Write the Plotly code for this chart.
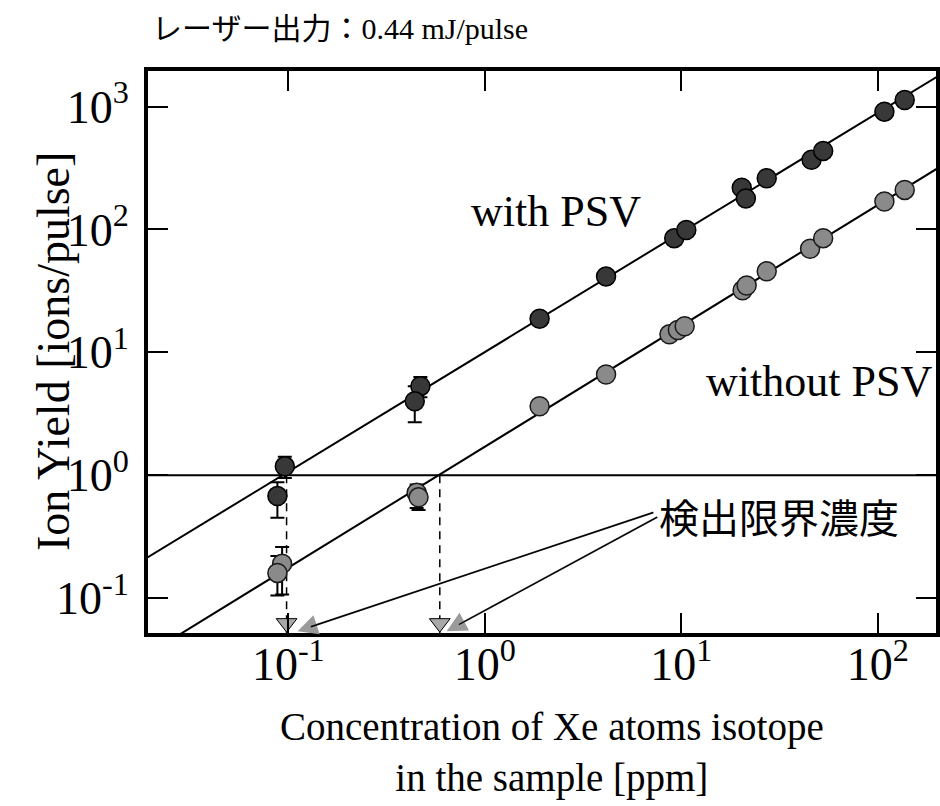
import numpy as np
import plotly.graph_objects as go

# ---------------- data ----------------
title_text = "レーザー出力：0.44 mJ/pulse"
x_title_lines = ["Concentration of Xe atoms isotope", "in the sample [ppm]"]
y_title = "Ion Yield [ions/pulse]"
label_with = "with PSV"
label_without = "without PSV"
label_limit = "検出限界濃度"

# with PSV (dark markers)
with_x = [0.096, 0.088, 0.47, 0.44, 1.90, 4.14, 9.2, 10.6, 20.3, 21.3, 27.2, 46.0, 52.7, 108, 137]
with_y = [1.18, 0.675, 5.3, 4.0, 18.8, 41.5, 85, 99, 219, 179, 261, 369, 436, 910, 1133]
with_err_up = [0.23, 0.20, 1.0, 1.3, 0.8, 1.7, 3.5, 4.0, 9, 7, 10, 15, 17, 36, 45]
with_err_dn = [0.23, 0.225, 1.0, 1.3, 0.8, 1.7, 3.5, 4.0, 9, 7, 10, 15, 17, 36, 45]

# without PSV (grey markers)
without_x = [0.093, 0.088, 0.45, 0.46, 1.90, 4.14, 8.7, 9.6, 10.4, 20.5, 21.5, 27.2, 45.2, 52.7, 108, 137]
without_y = [0.19, 0.16, 0.72, 0.66, 3.64, 6.6, 14.0, 15.2, 16.3, 32, 35, 45.6, 69.7, 85, 169, 210]
without_err_up = [0.07, 0.06, 0.12, 0.12, 0.15, 0.3, 0.6, 0.6, 0.7, 1.3, 1.4, 1.8, 2.8, 3.4, 7, 8]
without_err_dn = [0.083, 0.055, 0.18, 0.14, 0.15, 0.3, 0.6, 0.6, 0.7, 1.3, 1.4, 1.8, 2.8, 3.4, 7, 8]

# fitted lines: log10(y) = slope*log10(x) + intercept
fit_with = (0.974, 1.002)
fit_without = (0.984, 0.231)
# detection limits (ppm) where the fits cross 1 ion/pulse
det_limits = [0.098, 0.59]
threshold = 1.0

x_tickvals = [0.1, 1, 10, 100]
x_ticktext = ["10<sup>-1</sup>", "10<sup>0</sup>", "10<sup>1</sup>", "10<sup>2</sup>"]
y_tickvals = [0.1, 1, 10, 100, 1000]
y_ticktext = ["10<sup>-1</sup>", "10<sup>0</sup>", "10<sup>1</sup>", "10<sup>2</sup>", "10<sup>3</sup>"]
x_range_log = [-1.714, 2.296]
y_range_log = [-1.285, 3.29]

# ---------------- figure ----------------
SERIF = "Liberation Serif, Noto Sans CJK JP"
SANS_JP = "Noto Sans CJK JP"

fig = go.Figure()

line_x = np.array([0.01, 1000.0])
for slope, icpt in (fit_with, fit_without):
    fig.add_trace(go.Scatter(
        x=line_x, y=10 ** (slope * np.log10(line_x) + icpt),
        mode="lines", line=dict(color="black", width=2), hoverinfo="skip", showlegend=False))

# threshold line at 1 ion/pulse
fig.add_trace(go.Scatter(x=line_x, y=[threshold, threshold], mode="lines",
                         line=dict(color="black", width=2), showlegend=False, hoverinfo="skip"))

# dashed drop lines at detection limits
y_bottom = 10 ** y_range_log[0]
for d in det_limits:
    fig.add_trace(go.Scatter(x=[d, d], y=[threshold, y_bottom], mode="lines",
                             line=dict(color="black", width=1.5, dash="8px,6px"),
                             showlegend=False, hoverinfo="skip"))
fig.add_trace(go.Scatter(x=det_limits, y=[10 ** (y_range_log[0] + 0.08)] * len(det_limits),
                         mode="markers",
                         marker=dict(symbol="triangle-down", size=18, color="#a8a8a8",
                                     line=dict(color="black", width=1)),
                         showlegend=False, hoverinfo="skip"))

# data points
fig.add_trace(go.Scatter(
    x=without_x, y=without_y, mode="markers", name=label_without,
    marker=dict(size=19, color="#8a8a8a", line=dict(color="#1a1a1a", width=1.5)),
    error_y=dict(type="data", symmetric=False, array=without_err_up, arrayminus=without_err_dn,
                 color="black", thickness=2, width=7),
    showlegend=False))
fig.add_trace(go.Scatter(
    x=with_x, y=with_y, mode="markers", name=label_with,
    marker=dict(size=19, color="#383838", line=dict(color="black", width=1.5)),
    error_y=dict(type="data", symmetric=False, array=with_err_up, arrayminus=with_err_dn,
                 color="black", thickness=2, width=7),
    showlegend=False))

annotations = []
# series labels
annotations.append(dict(x=0.362, y=2.146, xref="x", yref="y", text=label_with, showarrow=False,
                        font=dict(family=SERIF, size=44, color="black")))
annotations.append(dict(x=1.699, y=0.764, xref="x", yref="y", text=label_without, showarrow=False,
                        font=dict(family=SERIF, size=44, color="black")))
# detection limit label and arrows
annotations.append(dict(x=0.878, y=-0.333, xref="x", yref="y", text=label_limit, showarrow=False,
                        xanchor="left", font=dict(family=SANS_JP, size=40, color="black")))
tip_offsets = [0.056, 0.035]
starts = [(0.865, -0.300), (0.885, -0.335)]
for d, off, (sx, sy) in zip(det_limits, tip_offsets, starts):
    tip = dict(x=np.log10(d) + off, y=y_range_log[0] + 0.015, xref="x", yref="y",
               ax=sx, ay=sy, axref="x", ayref="y", text="", showarrow=True)
    # grey head
    annotations.append(dict(tip, arrowhead=2, arrowsize=2.0, arrowwidth=2.0, arrowcolor="#9a9a9a"))
    # thin black shaft
    annotations.append(dict(tip, arrowhead=0, arrowwidth=1.4, arrowcolor="black", standoff=14))
# title
annotations.append(dict(x=0.003, y=1.075, xref="paper", yref="paper", xanchor="left", yanchor="middle",
                        text=title_text, showarrow=False,
                        font=dict(family=SERIF, size=30, color="black")))
# axis titles
annotations.append(dict(x=-0.1553, y=0.5, xref="paper", yref="paper", text=y_title, textangle=-90,
                        showarrow=False, font=dict(family=SERIF, size=46, color="black")))
annotations.append(dict(x=0.513, y=-0.212, xref="paper", yref="paper", text="<br>".join(x_title_lines),
                        showarrow=False, yanchor="middle",
                        font=dict(family=SERIF, size=39, color="black")))

axis_common = dict(showgrid=False, zeroline=False, showline=True, linecolor="black", linewidth=4,
                   mirror="ticks", ticks="inside", ticklen=20, tickwidth=2, tickcolor="black",
                   tickfont=dict(family=SERIF, size=46, color="black"))

fig.update_layout(
    width=940, height=806,
    margin=dict(l=148, r=0, t=71, b=173),
    paper_bgcolor="white", plot_bgcolor="white",
    xaxis=dict(type="log", range=x_range_log, tickvals=x_tickvals, ticktext=x_ticktext,
               ticklabelstandoff=-12, **axis_common),
    yaxis=dict(type="log", range=y_range_log, tickvals=y_tickvals, ticktext=y_ticktext,
               ticklabelstandoff=6, **axis_common),
    annotations=annotations,
    showlegend=False,
)

fig.write_html("out.html")
